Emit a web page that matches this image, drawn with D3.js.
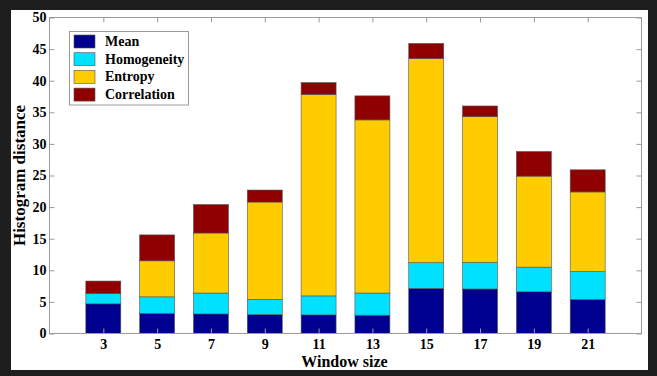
<!DOCTYPE html>
<html><head><meta charset="utf-8">
<script src="https://cdn.jsdelivr.net/npm/d3@7"></script>
<style>
html,body{margin:0;padding:0;background:#1e1e1e;}
svg{display:block;}
text{font-family:"Liberation Serif","Times New Roman",serif;font-weight:bold;fill:#000;}
</style></head>
<body>
<script>
const categories = [3,5,7,9,11,13,15,17,19,21];
const seriesNames = ["Mean","Homogeneity","Entropy","Correlation"];
const mean        = [4.7, 3.2, 3.1, 3.0, 2.95, 2.9, 7.15, 7.05, 6.6, 5.4];
const homogeneity = [1.6, 2.6, 3.3, 2.4, 3.0, 3.5, 4.05, 4.2, 3.9, 4.4];
const entropy     = [0.0, 5.7, 9.5, 15.4, 31.85, 27.4, 32.3, 23.05, 14.4, 12.6];
const correlation = [2.0, 4.1, 4.5, 1.9, 1.9, 3.8, 2.4, 1.7, 3.9, 3.5];
const yTicks = [0,5,10,15,20,25,30,35,40,45,50];
const colors = ["#00008f","#00e1ff","#ffcc00","#8f0000"];

const W = 657, H = 376;
const svg = d3.select("body").append("svg").attr("width", W).attr("height", H);
svg.append("rect").attr("x",0).attr("y",0).attr("width",W).attr("height",H).attr("fill","#1e1e1e");
svg.append("rect").attr("x",11).attr("y",10).attr("width",637).attr("height",360).attr("fill","#fff");

const L = 49.5, R = 641.5, T = 17.5, B = 333.5;
const x = d3.scaleLinear().domain([1,23]).range([L,R]);
const y = d3.scaleLinear().domain([0,50]).range([B,T]);
const barW = x(1+1.3) - x(1);

const table = categories.map((c,i)=>({cat:c, Mean:mean[i], Homogeneity:homogeneity[i], Entropy:entropy[i], Correlation:correlation[i]}));
const stacked = d3.stack().keys(seriesNames)(table);

const g = svg.append("g");
stacked.forEach((s,si)=>{
  g.selectAll(null).data(s).enter().append("rect")
    .attr("x", d=>x(d.data.cat)-barW/2)
    .attr("width", barW)
    .attr("y", d=>y(d[1]))
    .attr("height", d=>Math.max(0, y(d[0])-y(d[1])))
    .attr("fill", colors[si])
    .attr("stroke", "#555")
    .attr("stroke-width", 0.6);
});

// axis box
const axisColor = "#9a9a9a";
svg.append("rect").attr("x",L).attr("y",T).attr("width",R-L).attr("height",B-T)
  .attr("fill","none").attr("stroke",axisColor).attr("stroke-width",1);

// left axis (ticks inside)
const yAxis = d3.axisLeft(y).tickValues(yTicks).tickSize(-5).tickPadding(3).tickFormat(d3.format("d"));
const ya = svg.append("g").attr("transform",`translate(${L},0)`).call(yAxis);
ya.select(".domain").remove();
ya.selectAll("line").attr("stroke",axisColor);
ya.selectAll("text").style("font-size","14px").style("font-family","Liberation Serif").style("font-weight","bold").attr("fill","#000");

// right ticks
const yAxisR = d3.axisRight(y).tickValues(yTicks).tickSize(-5).tickFormat("");
const yr = svg.append("g").attr("transform",`translate(${R},0)`).call(yAxisR);
yr.select(".domain").remove();
yr.selectAll("line").attr("stroke",axisColor);

// bottom axis
const xAxis = d3.axisBottom(x).tickValues(categories).tickSize(-5).tickPadding(6).tickFormat(d3.format("d"));
const xa = svg.append("g").attr("transform",`translate(0,${B})`).call(xAxis);
xa.select(".domain").remove();
xa.selectAll("line").attr("stroke",axisColor);
xa.selectAll("text").style("font-size","14px").style("font-family","Liberation Serif").style("font-weight","bold").attr("fill","#000");

// top ticks
const xAxisT = d3.axisTop(x).tickValues(categories).tickSize(-5).tickFormat("");
const xt = svg.append("g").attr("transform",`translate(0,${T})`).call(xAxisT);
xt.select(".domain").remove();
xt.selectAll("line").attr("stroke",axisColor);

// axis titles
svg.append("text").attr("x",(L+R)/2 - 1).attr("y",367).attr("text-anchor","middle")
  .style("font-size","16px").text("Window size");
svg.append("text").attr("transform",`translate(25,${(T+B)/2}) rotate(-90)`).attr("text-anchor","middle")
  .style("font-size","17px").text("Histogram distance");

// legend
const lg = svg.append("g");
lg.append("rect").attr("x",69.5).attr("y",31.5).attr("width",119).attr("height",73.5)
  .attr("fill","#fff").attr("stroke",axisColor).attr("stroke-width",1);
seriesNames.forEach((n,i)=>{
  const yy = 35 + i*17.7;
  lg.append("rect").attr("x",74).attr("y",yy).attr("width",21).attr("height",13)
    .attr("fill",colors[i]).attr("stroke","#555").attr("stroke-width",0.6);
  lg.append("text").attr("x",105).attr("y",yy+11).style("font-size","14px").text(n);
});
</script>
</body></html>
